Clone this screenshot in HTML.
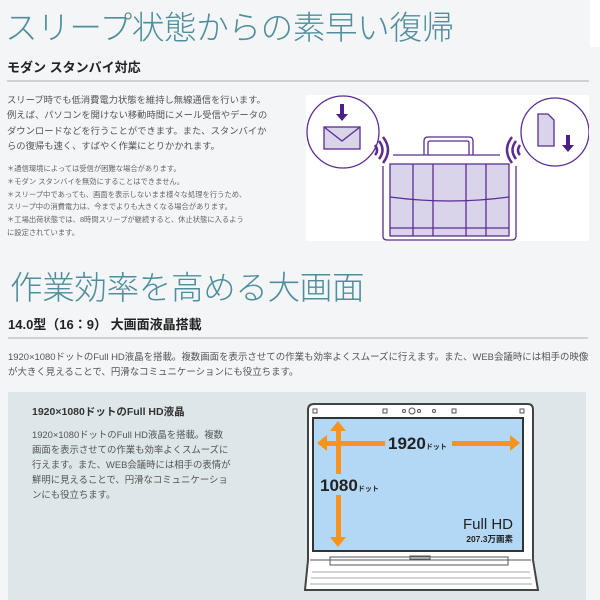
<!DOCTYPE html>
<html><head><meta charset="utf-8"><style>
body{margin:0;width:600px;height:600px;overflow:hidden;background:#f3f5f7;position:relative;font-family:"Liberation Sans","Noto Sans CJK JP",sans-serif}
.a{position:absolute;white-space:nowrap}
.t{color:#4f8e9c;font-size:32.5px;font-weight:300;letter-spacing:-0.3px;line-height:40px}
.h{font-weight:bold;color:#222;font-size:13px}
.b{color:#555;font-size:9.3px;line-height:15.3px}
.n{color:#666;font-size:7.3px;line-height:12.8px}
.line{position:absolute;height:2px;background:#cfd2d4}
</style></head><body>
<div class="a" style="left:590px;top:0;width:10px;height:47px;background:#fff"></div>
<div class="a t" style="left:5px;top:8px">スリープ状態からの素早い復帰</div>
<div class="a h" style="left:7px;top:57px">モダン スタンバイ対応</div>
<div class="line" style="left:7px;top:80px;width:582px"></div>
<div class="a b" style="left:7px;top:93px">スリープ時でも低消費電力状態を維持し無線通信を行います。<br>例えば、パソコンを開けない移動時間にメール受信やデータの<br>ダウンロードなどを行うことができます。また、スタンバイか<br>らの復帰も速く、すばやく作業にとりかかれます。</div>
<div class="a n" style="left:7px;top:163px">＊通信環境によっては受信が困難な場合があります。<br>＊モダン スタンバイを無効にすることはできません。<br>＊スリープ中であっても、画面を表示しないまま様々な処理を行うため、<br>スリープ中の消費電力は、今までよりも大きくなる場合があります。<br>＊工場出荷状態では、8時間スリープが継続すると、休止状態に入るよう<br>に設定されています。</div>
<svg class="a" style="left:306px;top:95px" width="283" height="146" viewBox="306 95 283 146">
<rect x="306" y="95" width="283" height="146" fill="#fff"/>
<g stroke="#5b2c91" fill="none" stroke-width="1.3">
<circle cx="343" cy="132" r="36"/><circle cx="555" cy="132" r="34"/>
<path d="M424 155 V141 Q424 137 428 137 H469 Q473 137 473 141 V155"/>
<path d="M428 155 V143 Q428 141 430 141 H467 Q469 141 469 143 V155"/>
<line x1="393" y1="155" x2="500" y2="155"/>
<path d="M383 166 V236 Q383 240 387 240 H512 Q516 240 516 236 V166"/>
<rect x="390" y="164" width="119" height="72" fill="#d9d4ea"/>
<path d="M390 197 Q450 205 509 197"/>
<line x1="413" y1="164" x2="413" y2="236"/><line x1="433" y1="164" x2="433" y2="236"/><line x1="466" y1="164" x2="466" y2="236"/><line x1="486" y1="164" x2="486" y2="236"/>
<line x1="390" y1="228" x2="509" y2="228"/>
<rect x="324" y="127" width="36" height="22" fill="#d9d4ea"/><path d="M324 127 L342 141 L360 127"/>
<path d="M538 114 h10 l6 6 v26 h-16 z" fill="#d9d4ea"/>
<path d="M375 155 q4 -4 0 -10 M379 159 q7 -9 0 -18 M383 163 q10 -13 0 -26" stroke-width="2.5"/>
<path d="M520 155 q-4 -4 0 -10 M516 159 q-7 -9 0 -18 M512 163 q-10 -13 0 -26" stroke-width="2.5"/>
</g>
<path d="M340 104 h4 v10 h4 l-6 7 l-6 -7 h4z" fill="#4a1f86"/>
<path d="M566 135 h4 v10 h4 l-6 7 l-6 -7 h4z" fill="#4a1f86"/>
</svg>
<div class="a t" style="left:10px;top:268px">作業効率を高める大画面</div>
<div class="a h" style="left:8px;top:314px">14.0型（16：9） 大画面液晶搭載</div>
<div class="line" style="left:8px;top:337px;width:580px"></div>
<div class="a b" style="left:8px;top:350px;font-size:9.45px">1920×1080ドットのFull HD液晶を搭載。複数画面を表示させての作業も効率よくスムーズに行えます。また、WEB会議時には相手の映像<br>が大きく見えることで、円滑なコミュニケーションにも役立ちます。</div>
<div class="a" style="left:8px;top:392px;width:578px;height:208px;background:#dde6e8"></div>
<div class="a h" style="left:32px;top:404px;font-size:10.5px;color:#333">1920×1080ドットのFull HD液晶</div>
<div class="a b" style="left:32px;top:427px;line-height:15px;font-size:9.4px">1920×1080ドットのFull HD液晶を搭載。複数<br>画面を表示させての作業も効率よくスムーズに<br>行えます。また、WEB会議時には相手の表情が<br>鮮明に見えることで、円滑なコミュニケーショ<br>ンにも役立ちます。</div>
<svg class="a" style="left:298px;top:400px" width="245" height="200" viewBox="298 400 245 200">
<path d="M305 590 L308 560 L308 410 Q308 404 314 404 L528 404 Q533 404 533 410 L533 560 L538 590Z" fill="#fff" stroke="#444" stroke-width="2"/>
<rect x="313" y="418" width="210" height="133" fill="#b3d8f5" stroke="#333" stroke-width="2"/>
<g fill="none" stroke="#555" stroke-width="1"><rect x="313" y="409" width="4" height="4"/><rect x="383" y="409" width="4" height="4"/><circle cx="412" cy="411" r="3"/><circle cx="404" cy="411" r="1.5"/><circle cx="419" cy="411" r="1.5"/><circle cx="434" cy="411" r="1.5"/><rect x="452" y="409" width="4" height="4"/><rect x="520" y="409" width="4" height="4"/>
<line x1="310" y1="560" x2="531" y2="560"/><rect x="330" y="557" width="178" height="8"/><rect x="410" y="556" width="20" height="3"/>
<path d="M312 572 h218 M311 578 h220 M310 584 h222" stroke="#aaa"/></g>
<g fill="#f7941d">
<rect x="325" y="441" width="60" height="5"/><path d="M317 443 l10 -8 v16z"/>
<rect x="452" y="441" width="60" height="5"/><path d="M520 443 l-10 -8 v16z"/>
<rect x="336" y="428" width="5" height="46"/><path d="M338 421 l-8 10 h16z"/>
<rect x="336" y="495" width="5" height="45"/><path d="M338 547 l-8 -10 h16z"/>
</g>
<text x="388" y="449" font-family="Liberation Sans" font-weight="bold" font-size="17" fill="#222">1920<tspan font-size="7" font-family="Noto Sans CJK JP">ドット</tspan></text>
<text x="320" y="491" font-family="Liberation Sans" font-weight="bold" font-size="17" fill="#222">1080<tspan font-size="7" font-family="Noto Sans CJK JP">ドット</tspan></text>
<text x="513" y="529" text-anchor="end" font-family="Liberation Sans" font-size="15" fill="#222">Full HD</text>
<text x="513" y="542" text-anchor="end" font-family="Liberation Sans,Noto Sans CJK JP" font-weight="bold" font-size="8.5" fill="#222">207.3万画素</text>
</svg>
</body></html>
